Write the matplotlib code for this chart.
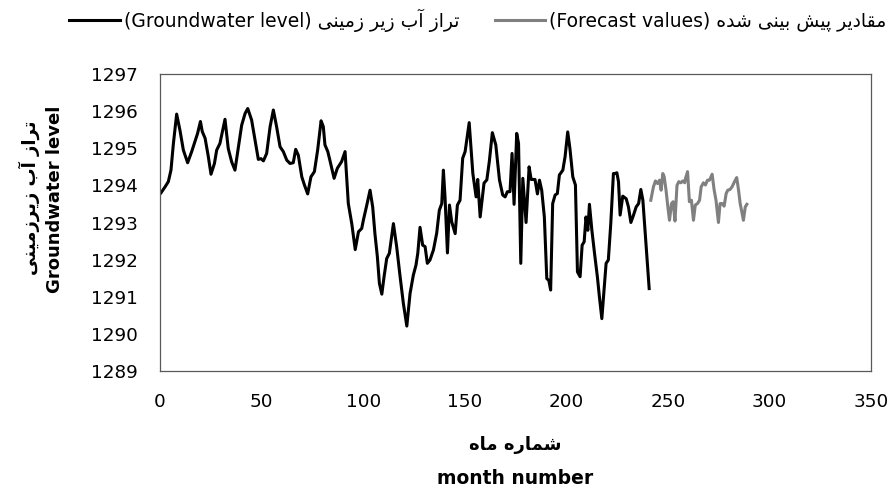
"""
Groundwater level series (months 1-240) with the 48-month forecast.
"""
import matplotlib
matplotlib.use('Agg')
import matplotlib.pyplot as plt

# observed groundwater level (m) by month number
obs_month = [
    0.5, 2.5, 4.1, 5.4, 6.6, 8.2, 9.8, 11.5, 13.6, 15.6, 17.2, 18.5, 19.9, 20.8,
    22.2, 23.8, 25.1, 26.8, 27.9, 29.5, 32.0, 33.6, 35.3, 36.9, 38.6, 40.2, 41.9,
    43.2, 45.1, 46.8, 48.4, 49.7, 50.9, 52.5, 54.2, 55.8, 57.4, 59.1, 60.7, 62.4,
    64.0, 65.6, 66.8, 68.1, 69.8, 71.1, 72.7, 74.3, 76.0, 77.6, 79.3, 80.4, 81.2,
    82.6, 83.7, 85.7, 87.3, 89.4, 91.1, 92.7, 94.4, 96.1, 97.7, 99.3, 100.1, 101.8,
    103.4, 104.7, 105.8, 107.0, 108.0, 109.2, 110.3, 111.6, 112.9, 114.9, 116.5,
    118.2, 119.8, 121.5, 123.1, 124.7, 126.0, 126.9, 128.0, 129.3, 130.5, 131.6,
    132.9, 134.6, 136.2, 137.5, 138.7, 139.5, 140.3, 141.5, 142.5, 143.6, 145.3,
    146.4, 147.7, 149.0, 150.2, 152.2, 154.0, 155.6, 156.4, 157.6, 159.5, 160.9,
    162.1, 163.6, 165.3, 167.1, 168.7, 169.9, 171.0, 172.3, 173.3, 174.3, 175.6,
    176.5, 177.6, 178.6, 180.2, 181.7, 182.7, 184.6, 185.8, 186.8, 187.9, 189.2,
    190.4, 191.4, 192.3, 193.3, 194.5, 195.6, 196.6, 198.3, 199.4, 200.7, 201.8,
    203.2, 204.5, 205.5, 206.8, 207.8, 208.8, 209.7, 210.6, 211.4, 212.6, 213.9,
    215.3, 216.3, 217.5, 218.6, 219.6, 220.7, 221.9, 223.2, 224.0, 224.9, 225.7,
    226.5, 227.8, 229.5, 230.6, 231.8, 233.1, 234.4, 235.6, 236.7, 237.7, 239.3,
    240.8,
]
obs_level = [
    1293.80, 1293.96, 1294.10, 1294.41, 1295.13, 1295.92, 1295.49, 1294.95,
    1294.61, 1294.91, 1295.18, 1295.40, 1295.72, 1295.45, 1295.27, 1294.77,
    1294.30, 1294.59, 1294.95, 1295.13, 1295.78, 1294.99, 1294.63, 1294.41,
    1295.04, 1295.62, 1295.94, 1296.07, 1295.76, 1295.22, 1294.70, 1294.72,
    1294.66, 1294.86, 1295.58, 1296.03, 1295.58, 1295.04, 1294.91, 1294.68,
    1294.59, 1294.61, 1294.97, 1294.81, 1294.23, 1294.01, 1293.77, 1294.23,
    1294.37, 1294.95, 1295.74, 1295.58, 1295.09, 1294.91, 1294.66, 1294.19,
    1294.46, 1294.64, 1294.91, 1293.51, 1292.97, 1292.27, 1292.75, 1292.84,
    1293.06, 1293.47, 1293.87, 1293.42, 1292.70, 1292.08, 1291.36, 1291.07,
    1291.54, 1292.03, 1292.17, 1292.97, 1292.35, 1291.54, 1290.82, 1290.21,
    1291.09, 1291.58, 1291.85, 1292.17, 1292.87, 1292.39, 1292.35, 1291.90,
    1291.99, 1292.26, 1292.71, 1293.33, 1293.51, 1294.41, 1293.69, 1292.18,
    1293.47, 1293.02, 1292.70, 1293.47, 1293.60, 1294.73, 1294.91, 1295.69,
    1294.32, 1293.69, 1294.16, 1293.15, 1294.06, 1294.15, 1294.64, 1295.42,
    1295.09, 1294.15, 1293.74, 1293.69, 1293.83, 1293.83, 1294.86, 1293.49,
    1295.40, 1295.13, 1291.90, 1294.19, 1293.00, 1294.50, 1294.16, 1294.16,
    1293.77, 1294.14, 1293.87, 1293.15, 1291.49, 1291.44, 1291.18, 1293.51,
    1293.74, 1293.78, 1294.28, 1294.41, 1294.77, 1295.44, 1294.99, 1294.23,
    1294.01, 1291.67, 1291.54, 1292.39, 1292.48, 1293.15, 1292.79, 1293.49,
    1292.79, 1292.17, 1291.54, 1291.00, 1290.41, 1291.18, 1291.90, 1291.99,
    1292.97, 1294.32, 1294.32, 1294.34, 1294.10, 1293.20, 1293.71, 1293.64,
    1293.42, 1293.00, 1293.20, 1293.42, 1293.51, 1293.89, 1293.60, 1292.35,
    1291.22,
]

# forecast values
fc_month = [
    241.6, 242.9, 243.9, 244.9, 245.9, 246.7, 247.5, 248.2, 249.1, 249.9, 250.8,
    251.8, 252.6, 253.5, 254.5, 255.4, 256.4, 257.4, 258.3, 258.7, 259.7, 260.6,
    261.6, 262.6, 263.5, 264.6, 265.6, 266.4, 267.5, 268.5, 269.5, 270.5, 271.8,
    272.8, 273.7, 274.9, 275.7, 276.7, 277.7, 278.7, 279.5, 280.6, 281.6, 282.8,
    283.9, 284.8, 285.6, 286.4, 287.2, 288.1, 288.9,
]
fc_level = [
    1293.60, 1293.96, 1294.12, 1294.05, 1294.14, 1293.87, 1294.32, 1294.23,
    1293.87, 1293.47, 1293.06, 1293.51, 1293.56, 1293.04, 1294.00, 1294.10,
    1294.07, 1294.12, 1294.07, 1294.19, 1294.37, 1293.56, 1293.60, 1293.06,
    1293.47, 1293.51, 1293.60, 1293.96, 1294.07, 1294.01, 1294.14, 1294.14,
    1294.30, 1293.87, 1293.60, 1293.00, 1293.51, 1293.51, 1293.44, 1293.78,
    1293.87, 1293.89, 1293.96, 1294.10, 1294.21, 1293.87, 1293.51, 1293.29,
    1293.06, 1293.42, 1293.49,
]

x_ticks = [0, 50, 100, 150, 200, 250, 300, 350]
y_ticks = [1289, 1290, 1291, 1292, 1293, 1294, 1295, 1296, 1297]

# Arabic presentation forms: (isolated, final[, initial, medial])
FORMS = {
    'ا': ('\ufe8d', '\ufe8e'),
    'آ': ('\ufe81', '\ufe82'),
    'د': ('\ufea9', '\ufeaa'),
    'ر': ('\ufead', '\ufeae'),
    'ز': ('\ufeaf', '\ufeb0'),
    'ب': ('\ufe8f', '\ufe90', '\ufe91', '\ufe92'),
    'پ': ('\ufb56', '\ufb57', '\ufb58', '\ufb59'),
    'ت': ('\ufe95', '\ufe96', '\ufe97', '\ufe98'),
    'ش': ('\ufeb5', '\ufeb6', '\ufeb7', '\ufeb8'),
    'ق': ('\ufed5', '\ufed6', '\ufed7', '\ufed8'),
    'م': ('\ufee1', '\ufee2', '\ufee3', '\ufee4'),
    'ن': ('\ufee5', '\ufee6', '\ufee7', '\ufee8'),
    'ه': ('\ufee9', '\ufeea', '\ufeeb', '\ufeec'),
    'ی': ('\ufeef', '\ufef0', '\ufef3', '\ufef4'),
}


def fa(text):
    """Join Persian letters and reverse them into display order (no raqm here)."""
    out = []
    for i, ch in enumerate(text):
        forms = FORMS.get(ch)
        if forms is None:
            out.append(ch)
            continue
        prev = text[i - 1] if i > 0 else ''
        nxt = text[i + 1] if i + 1 < len(text) else ''
        join_prev = prev in FORMS and len(FORMS[prev]) == 4
        join_next = len(forms) == 4 and nxt in FORMS
        if join_prev and join_next:
            out.append(forms[3])
        elif join_prev:
            out.append(forms[1])
        elif join_next:
            out.append(forms[2])
        else:
            out.append(forms[0])
    return ''.join(reversed(out))


def main():
    plt.rcParams['font.family'] = ['DejaVu Sans']

    fig = plt.figure(figsize=(8.9, 4.88), dpi=100)
    ax = fig.add_axes([160 / 890, 1 - 371 / 488, 711 / 890, 297 / 488])

    ax.plot(obs_month, obs_level, color='black', linewidth=2.2,
            label='(Groundwater level) ' + fa('تراز آب زیر زمینی'))
    ax.plot(fc_month, fc_level, color='#808080', linewidth=2.2,
            label='(Forecast values) ' + fa('مقادیر پیش بینی شده'))

    ax.set_xlim(0, 350)
    ax.set_ylim(1289, 1297)
    ax.set_xticks(x_ticks)
    ax.set_yticks(y_ticks)
    ax.tick_params(length=0, labelsize=13.2, labelcolor='black')
    ax.tick_params(axis='x', pad=16)
    ax.tick_params(axis='y', pad=16)
    for sp in ax.spines.values():
        sp.set_color('#595959')
        sp.set_linewidth(0.9)

    # axis titles: Persian line above the English one
    cx = (160 + 871) / 2 / 890
    fig.text(cx, 1 - 445 / 488, fa('شماره ماه'), ha='center', va='center',
             fontsize=13, fontweight='bold')
    fig.text(cx, 1 - 479 / 488, 'month number', ha='center', va='center',
             fontsize=13.5, fontweight='bold')
    fig.text(29 / 890, 1 - 198 / 488, fa('تراز آب زیرزمینی'), rotation=90,
             ha='center', va='center', fontsize=13, fontweight='bold')
    fig.text(55 / 890, 1 - 199 / 488, 'Groundwater level', rotation=90,
             ha='center', va='center', fontsize=13, fontweight='bold')

    fig.legend(loc='center', bbox_to_anchor=(0.537, 1 - 20 / 488), ncol=2,
               frameon=False, fontsize=13.5, handlelength=2.7,
               handletextpad=0.2, columnspacing=1.9)

    fig.savefig('out.png', dpi=100)
    plt.close(fig)


if __name__ == '__main__':
    main()
